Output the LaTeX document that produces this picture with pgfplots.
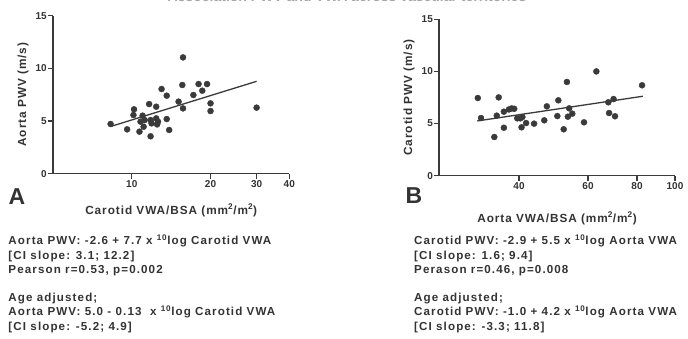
\documentclass[border=0pt]{standalone}
\usepackage{pgfplots}
\pgfplotsset{compat=1.18}
\usepackage{fontspec}
\setmainfont{Liberation Sans}
\newfontfamily\annfont[LetterSpace=9.5]{Liberation Sans}
\newfontfamily\labfont[LetterSpace=8]{Liberation Sans}
\definecolor{dk}{HTML}{3A3A3A}
\definecolor{tx}{HTML}{333333}
\pgfplotsset{
  pwv/.style={
    scale only axis, anchor=south west,
    ymin=0, ymax=15, ytick={0,5,10,15},
    xminorticks=false, yminorticks=false,
    axis x line*=bottom, axis y line*=left,
    axis line style={-, draw=dk, line width=1.2pt},
    tick style={draw=dk, line width=1.2pt},
    tick align=outside, major tick length=5pt,
    /pgf/number format/assume math mode=true,
    ticklabel style={font=\bfseries\fontsize{10}{12}\selectfont, text=tx},
    yticklabel style={inner sep=1pt},
    xticklabel style={inner sep=2pt},
    label style={font=\labfont\bfseries\fontsize{11.8}{13}\selectfont, text=tx},
    clip=false,
  },
  dots/.style={only marks, mark=*, mark size=3pt, mark options={draw=dk, fill=dk}},
  regline/.style={no marks, draw=dk, line width=1.3pt},
}
\begin{document}
\begin{tikzpicture}[x=1pt,y=1pt]
\useasboundingbox (0,0) rectangle (688,339);
% title, cut off at the top edge as in the reference
\node[anchor=base, font=\bfseries\fontsize{14}{16}\selectfont, text=gray!70] at (347,337.5) {Association PWV and VWA across vascular territories};

\begin{semilogxaxis}[pwv, at={(53pt,165.3pt)}, width=236.3pt, height=158pt,
  xmin=5, xmax=40, xtick={10,20,30,40}, xticklabels={10,20,30,40},
  ylabel={Aorta PWV (m/s)},
  ylabel style={at={(axis description cs:-0.127,0.5)}, anchor=center, rotate=0},
  xlabel={Carotid VWA/BSA (mm\textsuperscript{2}/m\textsuperscript{2})},
  xlabel style={at={(axis description cs:0.5,0)}, anchor=base, yshift=-40.5pt},
]
\addplot[dots] coordinates {
(8.3,4.72) (9.6,4.21) (10.2,6.11) (10.15,5.57) (10.7,3.99) (11.0,5.51) (11.2,5.09)
(10.8,4.94) (11.1,4.46) (11.65,6.61) (11.8,3.55) (11.8,5.09) (11.9,4.78) (12.4,5.25)
(12.6,4.94) (12.5,4.68) (12.4,6.36) (13.0,8.04) (13.6,7.41) (13.6,5.19) (13.9,4.15)
(15.1,6.84) (15.6,8.42) (15.7,11.04) (15.7,6.2) (17.2,7.47) (18.0,8.51) (18.6,7.88)
(19.4,8.51) (20.0,6.68) (20.0,5.95) (30,6.27)
};
\addplot[regline] coordinates {(8.3,4.48) (30,8.77)};
\end{semilogxaxis}

\begin{semilogxaxis}[pwv, at={(439pt,163.3pt)}, width=236pt, height=156.4pt,
  xmin=25, xmax=100, xtick={40,60,80,100}, xticklabels={40,60,80,100},
  ylabel={Carotid PWV (m/s)},
  ylabel style={at={(axis description cs:-0.127,0.5)}, anchor=center, rotate=0},
  xlabel={Aorta VWA/BSA (mm\textsuperscript{2}/m\textsuperscript{2})},
  xlabel style={at={(axis description cs:0.5,0)}, anchor=base, yshift=-46.5pt},
]
\addplot[dots] coordinates {
(31.4,7.45) (32.0,5.53) (34.6,3.71) (35.1,5.76) (35.5,7.51) (36.6,4.6) (36.6,6.14)
(37.7,6.35) (38.3,6.45) (38.9,6.42) (39.6,5.5) (40.3,5.5) (40.8,5.63) (40.6,4.64)
(41.7,5.05) (43.7,4.99) (46.4,5.31) (47.1,6.65) (50.1,5.72) (50.4,7.23) (52.0,4.45)
(53.0,8.99) (53.3,5.66) (53.7,6.46) (54.7,5.95) (58.6,5.12) (63.0,10.0) (67.6,7.04)
(67.9,6.01) (69.7,7.35) (70.3,5.7) (82.4,8.67)
};
\addplot[regline] coordinates {(31.3,5.25) (82.8,7.62)};
\end{semilogxaxis}

% panel letters
\node[anchor=center, font=\bfseries\fontsize{23}{26}\selectfont, text=tx] at (17,142.5) {A};
\node[anchor=center, font=\bfseries\fontsize{23}{26}\selectfont, text=tx] at (414,143) {B};

% annotation text
\begin{scope}[every node/.style={anchor=base west, inner sep=0pt, font=\annfont\bfseries\fontsize{11.6}{14}\selectfont, text=tx}]
\node at (8.3,94) {Aorta PWV: -2.6 + 7.7 x \textsuperscript{10}log Carotid VWA};
\node at (8.3,79.8) {[CI slope: 3.1; 12.2]};
\node at (8.3,65.6) {Pearson r=0.53, p=0.002};
\node at (8.3,37.2) {Age adjusted;};
\node at (8.3,23) {Aorta PWV: 5.0 - 0.13\ \ x \textsuperscript{10}log Carotid VWA};
\node at (8.3,8.8) {[CI slope: -5.2; 4.9]};
\node at (414,94) {Carotid PWV: -2.9 + 5.5 x \textsuperscript{10}log Aorta VWA};
\node at (414,79.8) {[CI slope: 1.6; 9.4]};
\node at (414,65.6) {Perason r=0.46, p=0.008};
\node at (414,37.2) {Age adjusted;};
\node at (414,23) {Carotid PWV: -1.0 + 4.2 x \textsuperscript{10}log Aorta VWA};
\node at (414,8.8) {[CI slope: -3.3; 11.8]};
\end{scope}
\end{tikzpicture}
\end{document}
